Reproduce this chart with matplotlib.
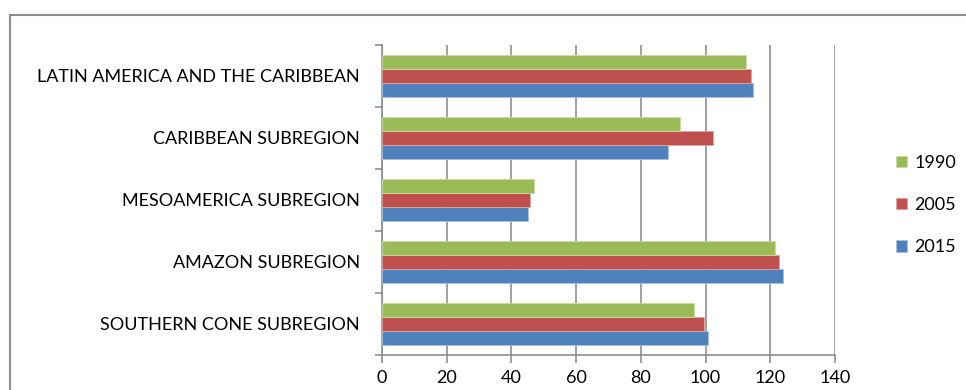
import numpy as np
import matplotlib.pyplot as plt
from matplotlib.patches import Rectangle

plt.rcParams['font.family'] = ['Lato', 'DejaVu Sans']

regions = ['SOUTHERN CONE SUBREGION', 'AMAZON SUBREGION', 'MESOAMERICA SUBREGION',
           'CARIBBEAN SUBREGION', 'LATIN AMERICA AND THE CARIBBEAN']
vals_2015 = [100.6, 123.9, 45.2, 88.3, 114.6]
vals_2005 = [99.4, 122.8, 45.6, 102.4, 113.9]
vals_1990 = [96.3, 121.4, 46.9, 92.1, 112.4]
xticks = [0, 20, 40, 60, 80, 100, 120, 140]

blue = '#4F81BD'
red = '#C0504D'
green = '#9BBB59'
grid_col = '#868686'

fig = plt.figure(figsize=(9.66, 3.9), dpi=100)
# chart frame
fig.patches.append(Rectangle((9.5 / 966, -0.1), 1.1, 1 - 14.5 / 390 + 0.1,
                             transform=fig.transFigure, fill=False,
                             edgecolor='#8c8c8c', lw=1.5))

ax = fig.add_axes([382 / 966, 1 - 355 / 390, 453 / 966, (355 - 44.7) / 390])

y = np.arange(len(regions))
h = 0.226
b1 = ax.barh(y - h, vals_2015, h, color=blue, edgecolor='#a9c0de', lw=0.6, label='2015', zorder=3)
b2 = ax.barh(y, vals_2005, h, color=red, edgecolor='#dba5a3', lw=0.6, label='2005', zorder=3)
b3 = ax.barh(y + h, vals_1990, h, color=green, edgecolor='#cbdcac', lw=0.6, label='1990', zorder=3)

ax.set_xlim(0, 140)
ax.set_ylim(-0.5, len(regions) - 0.5)
ax.set_xticks(xticks)
ax.set_xticklabels([str(t) for t in xticks])
ax.xaxis.grid(True, color=grid_col, lw=1.1)
ax.set_axisbelow(True)

ax.set_yticks(y)
ax.set_yticklabels(regions)
ax.set_yticks(np.arange(-0.5, len(regions)), minor=True)
ax.tick_params(axis='y', which='major', length=0, pad=16, labelsize=13)
ax.tick_params(axis='y', which='minor', length=5, width=1.1, color=grid_col, direction='out')
ax.tick_params(axis='x', length=6, width=1.1, color=grid_col, direction='out', pad=5, labelsize=13)

for side in ['top', 'right']:
    ax.spines[side].set_visible(False)
for side in ['left', 'bottom']:
    ax.spines[side].set_color(grid_col)
    ax.spines[side].set_linewidth(1.1)

leg = fig.legend(handles=[b3, b2, b1], labels=['1990', '2005', '2015'],
                 loc='center left', bbox_to_anchor=(880 / 966, 1 - 205 / 390),
                 frameon=False, fontsize=13, handlelength=0.6, handleheight=0.6,
                 handletextpad=0.4, labelspacing=1.45)

fig.savefig('out.png', dpi=100)
